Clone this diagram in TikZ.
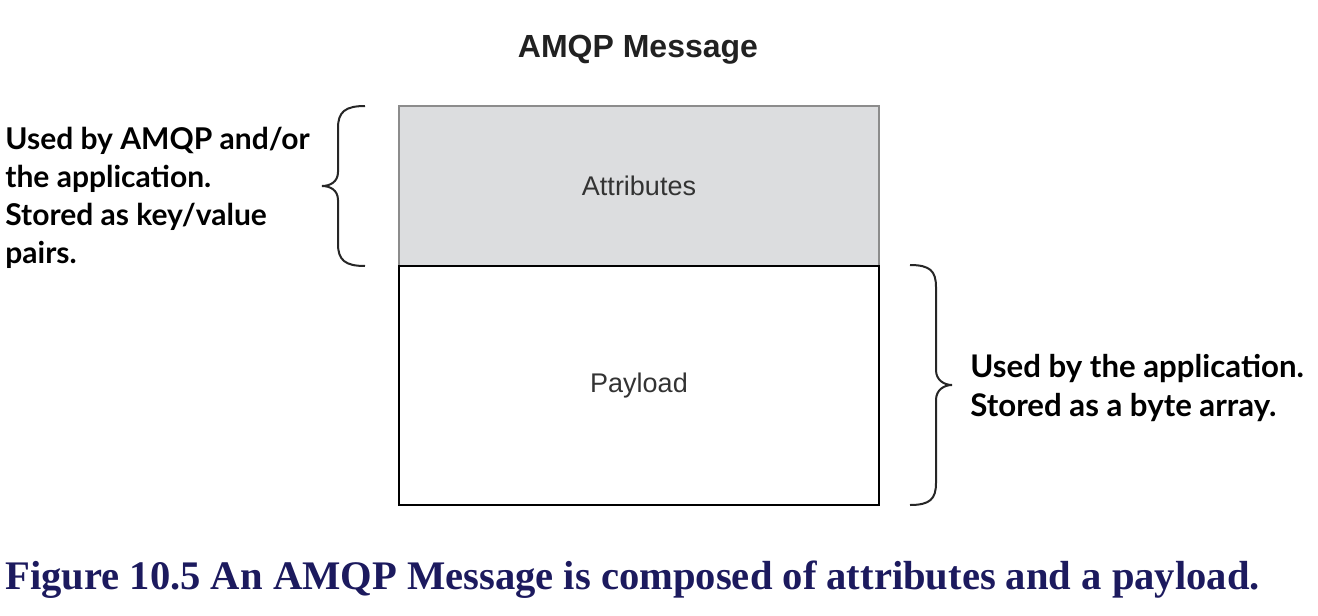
\documentclass[tikz,border=0pt]{standalone}
\usepackage{fontspec}
\setmainfont{Liberation Sans}
\newfontfamily\notefont{Lato}
\newfontfamily\capfont{Liberation Serif}
\definecolor{capblue}{HTML}{1C1A5E}
\definecolor{attrgray}{HTML}{DCDDDF}
\definecolor{boxtext}{HTML}{333333}
\tikzset{
  part/.style={draw,line width=0.75pt,minimum width=240pt,inner sep=0pt,text=boxtext,font=\fontsize{13.5}{16}\selectfont},
  note/.style={inner sep=0pt,align=left,font=\notefont\bfseries\fontsize{15}{18.9}\selectfont},
  brace/.style={line width=1pt,draw=black!85}
}
\begin{document}
\begin{tikzpicture}[x=0.5pt,y=-0.5pt]
\useasboundingbox (0,0) rectangle (1318,616);
\node[part,fill=attrgray,draw=black!45,minimum height=80pt] (attr) at (639,186) {Attributes};
\node[part,minimum height=119.5pt] (payload) at (639,385.5) {Payload};
\node[inner sep=0pt,anchor=base,text=black!87,font=\bfseries\fontsize{16}{19}\selectfont] (title) at (638,57) {AMQP Message};
\node[note,anchor=north west] (attrnote) at (5,127) {Used by AMQP and/or\\the application.\\Stored as key/value\\pairs.};
\node[note,anchor=north west,font=\notefont\bfseries\fontsize{15.6}{19.5}\selectfont] (payloadnote) at (970,354) {Used by the application.\\Stored as a byte array.};
\node[inner sep=0pt,anchor=base west,text=capblue,font=\capfont\bfseries\fontsize{20.3}{24}\selectfont] (caption) at (5,589) {Figure 10.5 An AMQP Message is composed of attributes and a payload.};
% braces
\draw [brace] (365,106) .. controls (345,106) and (338,112) .. (338,128) -- (338,172)
  .. controls (338,182) and (330,186) .. (322,186) .. controls (330,186) and (338,190) .. (338,200)
  -- (338,244) .. controls (338,260) and (345,266) .. (365,266);
\draw [brace] (910,265) .. controls (930,265) and (936,271) .. (936,287) -- (936,370)
  .. controls (936,380) and (944,385) .. (952,385) .. controls (944,385) and (936,390) .. (936,400)
  -- (936,483) .. controls (936,499) and (930,505) .. (910,505);
\end{tikzpicture}
\end{document}
